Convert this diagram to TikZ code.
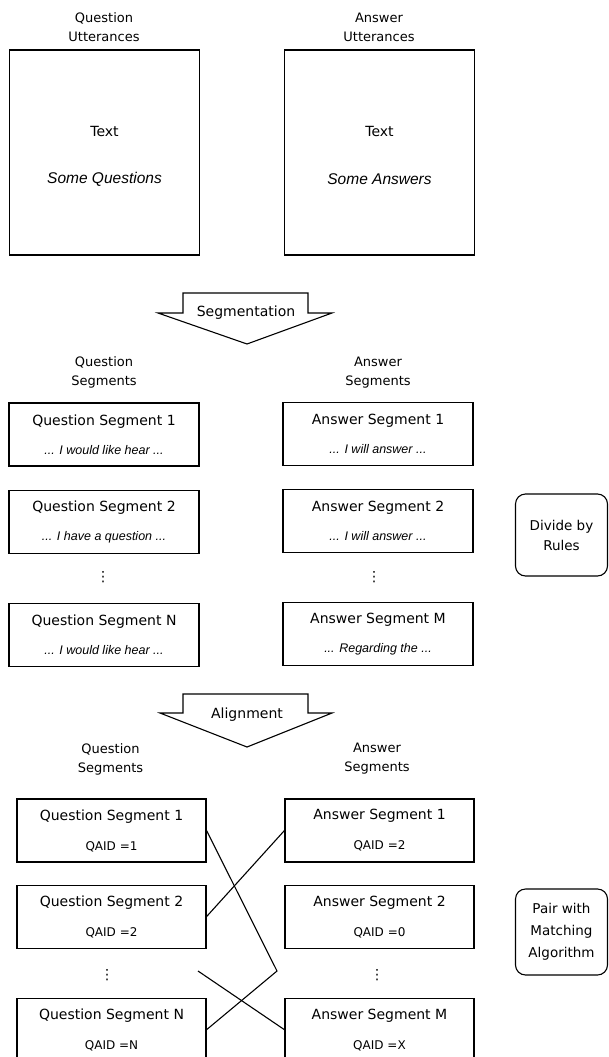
\documentclass[tikz,border=0pt]{standalone}
\usepackage{fontspec}
\setmainfont{DejaVu Sans}
\newfontfamily\quotefont{Liberation Sans}
\usepackage{tikz}
\usetikzlibrary{positioning}
\newcommand{\qt}[1]{{\quotefont\itshape\fontsize{12.5}{15}\selectfont #1}}
\newcommand{\qaid}[1]{{\fontsize{12}{15}\selectfont QAID =#1}}

\begin{document}
\begin{tikzpicture}[x=1pt, y=-1pt, line width=1.1pt, node distance=23pt,
  every node/.style={align=center, inner sep=0pt, font=\fontsize{14}{16}\selectfont},
  hdr/.style={font=\fontsize{13}{19}\selectfont},
  bigbox/.style={draw, minimum width=190pt, minimum height=205pt},
  segbox/.style={draw, minimum width=190pt, minimum height=63pt},
  rulebox/.style={draw, rounded corners=10pt, minimum width=92pt}]
  \useasboundingbox (0,0) rectangle (608,1057);

  % raw utterances
  \node[hdr] (quh) at (104,27.5) {Question\\Utterances};
  \node[hdr] (auh) at (379,27.5) {Answer\\Utterances};
  \node[bigbox] (qutt) at (104.5,152.5) {};
  \node[bigbox] (autt) at (379.5,152.5) {};
  \node (qtxt) at ([yshift=21.5pt]qutt.center) {Text};
  \node (atxt) at ([yshift=21.5pt]autt.center) {Text};
  \node[font=\quotefont\itshape\fontsize{15.5}{17}\selectfont] (qsome) at ([yshift=-26.5pt]qutt.center) {Some Questions};
  \node[font=\quotefont\itshape\fontsize{15.5}{17}\selectfont] (asome) at ([yshift=-26.5pt]autt.center) {Some Answers};

  % segmentation step
  \node (segm) at (246,313) {Segmentation};
  \draw (183,293) -- (183,313) -- (158,313) -- (247,344) -- (332,313) -- (308,313) -- (308,293) -- cycle;

  % segments
  \node[hdr] (qsh) at (104,372.5) {Question\\Segments};
  \node[hdr] (ash) at (378,372.5) {Answer\\Segments};
  \node[segbox] (qs1) at (104,434.5) {Question Segment 1\\[13pt]\qt{... I would like hear ...}};
  \node[segbox, below=of qs1] (qs2) {Question Segment 2\\[13pt]\qt{... I have a question ...}};
  \node (qsdots) at (103,577) {⋮};
  \node[segbox, below=49pt of qs2] (qsn) {Question Segment N\\[13pt]\qt{... I would like hear ...}};
  \node[segbox] (as1) at (378,434) {Answer Segment 1\\[13pt]\qt{... I will answer ...}};
  \node[segbox, below=of as1] (as2) {Answer Segment 2\\[13pt]\qt{... I will answer ...}};
  \node (asdots) at (374,577) {⋮};
  \node[segbox, below=49pt of as2] (asm) {Answer Segment M\\[13pt]\qt{... Regarding the ...}};
  \node[rulebox, minimum height=82pt, font=\fontsize{13.5}{20}\selectfont] (rules) at (561.5,535) {Divide by\\Rules};

  % alignment step
  \node (algn) at (247,715) {Alignment};
  \draw (183,694) -- (183,713) -- (160,713) -- (247,747) -- (332,713) -- (308,713) -- (308,694) -- cycle;

  % aligned segments
  \node[hdr] (qah) at (110.5,759) {Question\\Segments};
  \node[hdr] (aah) at (377,759) {Answer\\Segments};
  \node[segbox, minimum width=189pt] (qa1) at (111.5,830.5) {Question Segment 1\\[14pt]\qaid{1}};
  \node[segbox, minimum width=189pt, below=22pt of qa1] (qa2) {Question Segment 2\\[14pt]\qaid{2}};
  \node (qadots) at (107,975) {⋮};
  \node[segbox, minimum width=189pt, below=49pt of qa2] (qan) {Question Segment N\\[14pt]\qaid{N}};
  \node[segbox, minimum width=189pt] (aa1) at (379.5,830.5) {Answer Segment 1\\[14pt]\qaid{2}};
  \node[segbox, minimum width=189pt, below=22pt of aa1] (aa2) {Answer Segment 2\\[14pt]\qaid{0}};
  \node (aadots) at (377,975) {⋮};
  \node[segbox, minimum width=189pt, below=49pt of aa2] (aam) {Answer Segment M\\[14pt]\qaid{X}};
  \node[rulebox, minimum height=86pt, font=\fontsize{13.5}{22}\selectfont] (match) at (561.5,932) {Pair with\\Matching\\Algorithm};

  % pairing lines
  \coordinate (kink) at (277,971);
  \coordinate (loose) at (198,971);
  \draw (qa1.east) -- (kink) -- (qan.east);
  \draw (qa2.east) -- (aa1.west);
  \draw (loose) -- (aam.west);
\end{tikzpicture}
\end{document}
